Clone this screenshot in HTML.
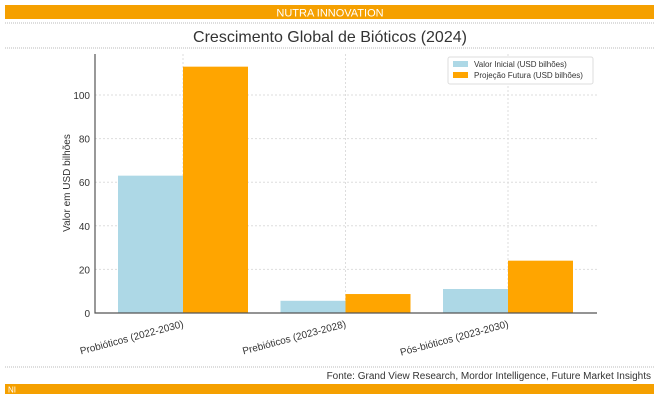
<!DOCTYPE html>
<html><head><meta charset="utf-8"><style>
body{margin:0;width:659px;height:400px;background:#fff;overflow:hidden;font-family:"Liberation Sans",sans-serif}
</style></head><body>
<svg width="659" height="400" xmlns="http://www.w3.org/2000/svg" font-family="Liberation Sans, sans-serif">
<rect x="5" y="5" width="649" height="14" fill="#F5A000"/>
<text x="330" y="16.5" text-anchor="middle" font-size="11" fill="#fff">NUTRA INNOVATION</text>
<line x1="5" y1="23" x2="654" y2="23" stroke="#bbb" stroke-dasharray="1,1"/>
<text x="330" y="42" text-anchor="middle" font-size="16" fill="#333">Crescimento Global de Bióticos (2024)</text>
<line x1="5" y1="48" x2="654" y2="48" stroke="#bbb" stroke-dasharray="1,1"/>
<g id="chart"></g>
<line x1="5" y1="367" x2="654" y2="367" stroke="#bbb" stroke-dasharray="1,1"/>
<text x="651" y="379" text-anchor="end" font-size="10" fill="#333">Fonte: Grand View Research, Mordor Intelligence, Future Market Insights</text>
<rect x="5" y="384" width="649" height="10" fill="#F5A000"/>
<text x="8" y="392.5" font-size="8" fill="#fff">NI</text>
</svg>
<script>
const categories=["Probióticos (2022-2030)","Prebióticos (2023-2028)","Pós-bióticos (2023-2030)"];
const initialValues=[63,5.6,11];
const futureValues=[113,8.7,24];
const yTicks=[0,20,40,60,80,100];
const NS="http://www.w3.org/2000/svg";
const g=document.getElementById('chart');
const x0=95,x1=597,yBase=313,yTop=54,pxPerUnit=2.18;
const y=v=>yBase-v*pxPerUnit;
const groupX=i=>183+i*162.5;
const bw=65;
function el(t,a,p){const e=document.createElementNS(NS,t);for(const k in a)e.setAttribute(k,a[k]);(p||g).appendChild(e);return e;}
yTicks.forEach(t=>{
 const l=el('line',{x1:x0,x2:x1,y1:y(t),y2:y(t),stroke:'#ddd','stroke-dasharray':'2,2'});
 
 
 const tx=el('text',{x:x0-5,y:y(t)+4,'text-anchor':'end','font-size':'10',fill:'#333'});
 tx.textContent=t;
 
 
});
categories.forEach((c,i)=>{
 const gx=groupX(i);
 const vl=el('line',{x1:gx,x2:gx,y1:yTop,y2:yBase,stroke:'#ddd','stroke-dasharray':'2,2'});
 
 
 const b1=el('rect',{x:gx-bw,y:y(initialValues[i]),width:bw,height:initialValues[i]*pxPerUnit,fill:'#ADD8E6'});
 
 
 const b2=el('rect',{x:gx,y:y(futureValues[i]),width:bw,height:futureValues[i]*pxPerUnit,fill:'#FFA500'});
 
 
 const tx=el('text',{x:gx,y:yBase+14,'text-anchor':'end','font-size':'10',fill:'#333',transform:`rotate(-15 ${gx} ${yBase+10})`});
 tx.textContent=c;
 
 
});
const ax=el('path',{d:`M${x0} ${yTop}V${yBase}H${x1}`,fill:'none',stroke:'#555','stroke-width':'1.2'});


const yl=el('text',{x:0,y:0,'text-anchor':'middle','font-size':'10',fill:'#333',transform:'translate(70,183) rotate(-90)'});
yl.textContent='Valor em USD bilhões';


const lg=el('g',{});


el('rect',{x:448,y:57,width:145,height:27,fill:'#fff',stroke:'#ddd',rx:2},lg);
el('rect',{x:453,y:61,width:15,height:6,fill:'#ADD8E6'},lg);
el('rect',{x:453,y:72,width:15,height:6,fill:'#FFA500'},lg);
const t1=el('text',{x:474,y:67,'font-size':'8',fill:'#333'},lg);t1.textContent='Valor Inicial (USD bilhões)';


const t2=el('text',{x:474,y:78,'font-size':'8',fill:'#333'},lg);t2.textContent='Projeção Futura (USD bilhões)';


</script>
</body></html>
